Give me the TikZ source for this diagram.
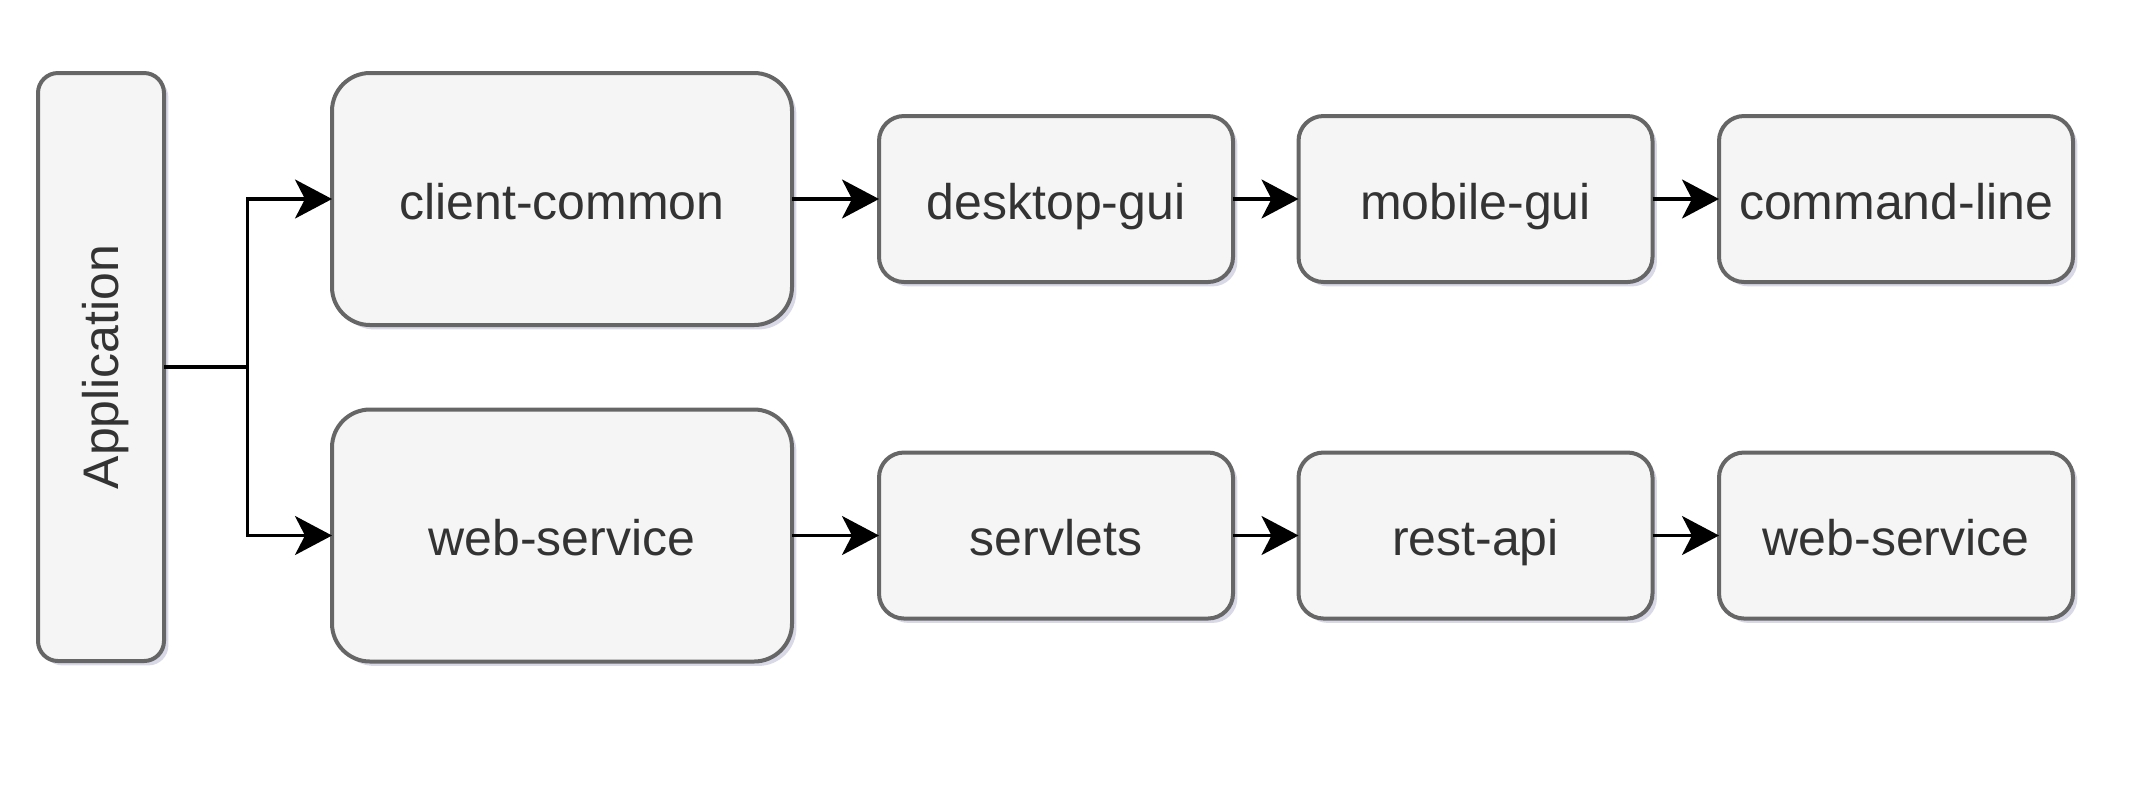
\documentclass[tikz,border=0pt]{standalone}
\usepackage{fontspec}
\setmainfont{Liberation Sans}
\usetikzlibrary{arrows.meta,shadows}
\definecolor{boxfill}{HTML}{F5F5F5}
\definecolor{boxdraw}{HTML}{666666}
\definecolor{boxtext}{HTML}{333333}
\definecolor{shadowc}{RGB}{190,190,214}
\tikzset{
  box/.style={draw=boxdraw, fill=boxfill, text=boxtext, line width=2pt,
    font=\fontsize{25}{30}\selectfont, text height=25pt, text depth=5pt,
    inner sep=0pt, outer sep=0pt,
    drop shadow={shadow xshift=2.2pt, shadow yshift=-2.2pt, fill=shadowc, opacity=0.6}},
  bigbox/.style={box, rounded corners=19pt, minimum width=230pt, minimum height=126pt},
  smallbox/.style={box, rounded corners=12.5pt, minimum width=177pt, minimum height=83pt},
  appbox/.style={box, rounded corners=10pt, minimum width=63pt, minimum height=294pt, text height=, text depth=},
  conn/.style={line width=1.6pt, draw=black},
  arr/.style={conn, -{Stealth[length=18.5pt, width=19.5pt, inset=5pt]}}
}
\begin{document}
\begin{tikzpicture}[x=0.5pt, y=-0.5pt]
\useasboundingbox (0,0) rectangle (2134,784);
\fill[white] (0,0) rectangle (2134,784);
% nodes
\node[appbox] (app) at (101,367) {\hspace*{3pt}\rotatebox{90}{\rule[-5pt]{0pt}{25pt}Application}};
\node[bigbox] (cc) at (562,199) {client-common};
\node[bigbox] (ws) at (562,535.5) {web-service};
\node[smallbox] (dg) at (1056,199) {desktop-gui};
\node[smallbox] (mg) at (1475.5,199) {mobile-gui};
\node[smallbox] (cl) at (1896,199) {command-line};
\node[smallbox] (sv) at (1056,535.5) {servlets};
\node[smallbox] (ra) at (1475.5,535.5) {rest-api};
\node[smallbox] (ws2) at (1896,535.5) {web-service};
% connectors
\coordinate (j) at (247.5,367);
\draw[conn] (app.east) -- (j);
\draw[arr] (j) |- (cc.west);
\draw[arr] (j) |- (ws.west);
\draw[arr] (cc.east) -- (dg.west);
\draw[arr] (dg.east) -- (mg.west);
\draw[arr] (mg.east) -- (cl.west);
\draw[arr] (ws.east) -- (sv.west);
\draw[arr] (sv.east) -- (ra.west);
\draw[arr] (ra.east) -- (ws2.west);
\end{tikzpicture}
\end{document}
